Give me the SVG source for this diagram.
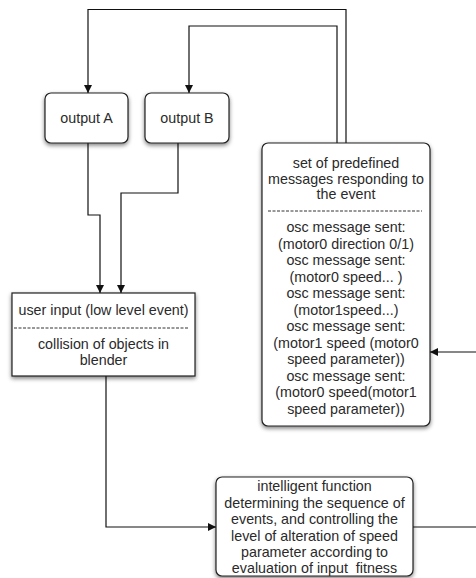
<svg xmlns="http://www.w3.org/2000/svg" width="476" height="578" viewBox="0 0 476 578">
<defs>
<marker id="ah" viewBox="0 0 10 10" refX="10" refY="5" markerWidth="8" markerHeight="8" markerUnits="userSpaceOnUse" orient="auto">
<path d="M0,0 L10,5 L0,10 z" fill="#111"/>
</marker>
<filter id="sh" x="-20%" y="-20%" width="140%" height="140%">
<feGaussianBlur in="SourceAlpha" stdDeviation="2"/>
<feOffset dx="0" dy="2" result="b"/>
<feComponentTransfer><feFuncA type="linear" slope="0.5"/></feComponentTransfer>
<feMerge><feMergeNode/><feMergeNode in="SourceGraphic"/></feMerge>
</filter>
<style>
.box{fill:#fff;stroke:#222;stroke-width:1.2;filter:url(#sh)}
.t{font-family:"Liberation Sans",Arial,sans-serif;font-size:14.3px;fill:#2a2a2a;text-anchor:middle}
.c{fill:none;stroke:#111;stroke-width:1.2}
.d{stroke:#333;stroke-width:1;stroke-dasharray:3,1.5}
</style>
</defs>
<rect width="476" height="578" fill="#fff"/>
<g id="connectors">
<path class="c" d="M346,143 V9.5 H88 V93" marker-end="url(#ah)"/>
<path class="c" d="M337,143 V26 H189 V93" marker-end="url(#ah)"/>
<path class="c" d="M88,143 V215 H100 V293" marker-end="url(#ah)"/>
<path class="c" d="M178,143 V193 H121 V293" marker-end="url(#ah)"/>
<path class="c" d="M106,376 V527 H216" marker-end="url(#ah)"/>
<path class="c" d="M413,527 H480 V352 H430" marker-end="url(#ah)"/>
</g>
<g id="outputA">
<rect class="box" x="45" y="93" width="83" height="50" rx="6"/>
<text class="t" x="86.5" y="123">output A</text>
</g>
<g id="outputB">
<rect class="box" x="145" y="93" width="84" height="50" rx="6"/>
<text class="t" x="187" y="123">output B</text>
</g>
<g id="messages">
<rect class="box" x="262" y="143" width="168" height="283" rx="6"/>
<text class="t" x="346" y="168">set of predefined</text>
<text class="t" x="346" y="184">messages responding to</text>
<text class="t" x="346" y="199">the event</text>
<line class="d" x1="268" y1="211" x2="422" y2="211"/>
<text class="t" x="346" y="232">osc message sent:</text>
<text class="t" x="346" y="248.5">(motor0 direction 0/1)</text>
<text class="t" x="346" y="265">osc message sent:</text>
<text class="t" x="346" y="281.5">(motor0 speed... )</text>
<text class="t" x="346" y="298">osc message sent:</text>
<text class="t" x="346" y="314.5">(motor1speed...)</text>
<text class="t" x="346" y="331">osc message sent:</text>
<text class="t" x="346" y="347.5">(motor1 speed (motor0</text>
<text class="t" x="346" y="364">speed parameter))</text>
<text class="t" x="346" y="380.5">osc message sent:</text>
<text class="t" x="346" y="397">(motor0 speed(motor1</text>
<text class="t" x="346" y="413.5">speed parameter))</text>
</g>
<g id="userinput">
<rect class="box" x="12" y="293" width="183" height="83"/>
<text class="t" x="103.5" y="315">user input (low level event)</text>
<line class="d" x1="14" y1="328" x2="188" y2="328"/>
<text class="t" x="103.5" y="349">collision of objects in</text>
<text class="t" x="103.5" y="365">blender</text>
</g>
<g id="intelligent">
<rect class="box" x="216" y="477" width="197" height="99" rx="6"/>
<text class="t" x="314.5" y="491">intelligent function</text>
<text class="t" x="314.5" y="508">determining the sequence of</text>
<text class="t" x="314.5" y="524">events, and controlling the</text>
<text class="t" x="314.5" y="541">level of alteration of speed</text>
<text class="t" x="314.5" y="557">parameter according to</text>
<text class="t" x="314.5" y="573" style="white-space:pre">evaluation of input  fitness</text>
</g>
</svg>
